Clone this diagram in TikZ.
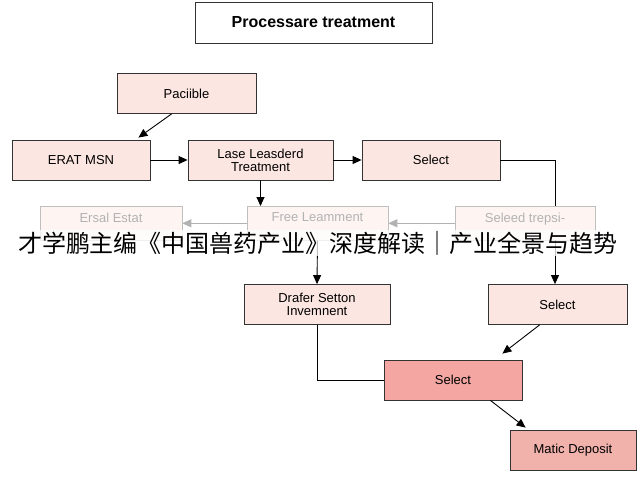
\documentclass[tikz,border=0pt]{standalone}
\usepackage{fontspec}
\setmainfont{Liberation Sans}
\newfontfamily\cjk{Noto Sans CJK SC}
\usetikzlibrary{arrows.meta,calc}
\definecolor{pk}{HTML}{FCE6E1}
\definecolor{pkd}{HTML}{F4A7A2}
\definecolor{pkm}{HTML}{F2B2AC}
\begin{document}
\begin{tikzpicture}[x=1pt,y=-1pt,
 box/.style={draw=black!80,fill=pk,line width=0.8pt,minimum height=40pt,align=center,font=\fontsize{13}{13}\selectfont},
 faded/.style={draw=black!25,fill=pk!40,line width=0.6pt,minimum height=34pt,align=center,text=black!30,font=\fontsize{13}{13}\selectfont,anchor=north,text depth=12pt},
 arr/.style={line width=0.9pt,-{Triangle[length=9pt,width=8pt]}},
 farr/.style={draw=black!30,line width=0.9pt,-{Triangle[length=9pt,width=8pt]}}]
\useasboundingbox[fill=white] (0,0) rectangle (640,480);
\node[draw=black!80,line width=0.8pt,minimum width=237pt,minimum height=41pt,font=\bfseries\fontsize{16}{16}\selectfont] (t) at (313.5,22.5) {Processare treatment};
\node[box,minimum width=139pt] (p) at (186.5,93.5) {Paciible};
\node[box,minimum width=138pt] (e) at (81,160) {ERAT MSN};
\node[box,minimum width=145pt] (l) at (260.5,160) {Lase Leasderd\\Treatment};
\node[box,minimum width=138pt] (s1) at (431,160) {Select};
\node[faded,minimum width=142pt] (er) at (111,206) {Ersal Estat};
\node[faded,minimum width=141pt] (fr) at (317.5,206) {Free Leamment};
\node[faded,minimum width=140pt] (se) at (525,206) {Seleed trepsi-};
\node[box,minimum width=146pt] (d) at (317,304.5) {Drafer Setton\\Invemnent};
\node[box,minimum width=139pt] (s2) at (557.5,304.5) {Select};
\node[box,fill=pkd,minimum width=138pt] (s3) at (453,380) {Select};
\node[box,fill=pkm,minimum width=126pt] (m) at (573,450) {Matic Deposit};
\coordinate (c1) at (555,240);
\draw[arr] ($(p.south west)+(55,0)$) -- ($(e.north east)+(-12,-2)$);
\draw[arr] (e) -- (l);
\draw[arr] (l) -- (s1);
\draw[arr] (l.south) -- (l.south|-fr.north);
\draw[line width=0.9pt] (s1.east) -| (se.north-|c1);
\draw[farr] (se) -- (fr);
\draw[farr] (fr) -- (er);
\draw[arr] (fr.south) -- (d.north);
\draw[arr] (c1) -- (s2.north-|c1);
\draw[arr] ($(s2.south west)+(52,0)$) -- ($(s3.north east)+(-20,-6)$);
\draw[line width=0.9pt] (d.south) |- (s3.west);
\draw[arr] ($(s3.south east)+(-32,0)$) -- ($(m.north west)+(16,-2)$);
\node[font=\cjk\fontsize{24}{26}\selectfont,fill=white,fill opacity=0.75,text opacity=1,inner sep=1pt] (c) at (318,243) {才学鹏主编《中国兽药产业》深度解读｜产业全景与趋势};
\end{tikzpicture}
\end{document}
